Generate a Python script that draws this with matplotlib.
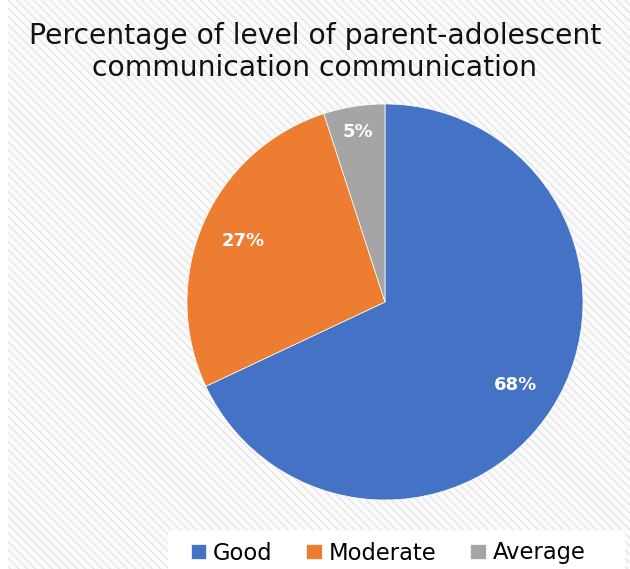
import numpy as np
import matplotlib
matplotlib.use("Agg")
import matplotlib.pyplot as plt
from matplotlib.patches import Rectangle

labels = ["Good", "Moderate", "Average"]
values = [68, 27, 5]
colors = ["#4472C4", "#ED7D31", "#A5A5A5"]

plt.rcParams['font.family'] = ['DejaVu Sans']
plt.rcParams['hatch.color'] = '#e4e4e4'
plt.rcParams['hatch.linewidth'] = 1.0

fig = plt.figure(figsize=(6.3, 5.69), dpi=100)
fig.patch.set_facecolor("white")

# hatched chart background
bg = Rectangle((8 / 630, 0), 1 - 8 / 630, 1, transform=fig.transFigure,
               facecolor="#fbfbfb", edgecolor="#e6e6e6", hatch="\\\\\\\\", lw=0, zorder=-3)
fig.patches.append(bg)
# legend box
fig.patches.append(Rectangle((168 / 630, 0), 457 / 630, 39 / 569, transform=fig.transFigure,
                             facecolor="white", edgecolor="none", zorder=-2))

fig.text(0.5, 0.909, "Percentage of level of parent-adolescent\ncommunication communication",
         ha="center", va="center", fontsize=20.3, color="#111111", linespacing=1.2)

ax = fig.add_axes([187 / 630, 69 / 569, 396 / 630, 396 / 569])
ax.patch.set_visible(False)
wedges, texts, autotexts = ax.pie(values, colors=colors, startangle=90, counterclock=False,
                                  autopct="%d%%", pctdistance=0.78,
                                  wedgeprops=dict(linewidth=0.5, edgecolor="white"),
                                  textprops=dict(color="white", fontsize=13, fontweight="bold"))
ax.set_xlim(-1, 1)
ax.set_ylim(-1, 1)
ax.set_aspect("auto")

# small slice label sits further out
w = wedges[2]
mid = np.deg2rad((w.theta1 + w.theta2) / 2)
autotexts[2].set_position((0.87 * np.cos(mid), 0.87 * np.sin(mid)))

leg = fig.legend(wedges, labels, loc="center", bbox_to_anchor=(388 / 630, 1 - 553 / 569),
                 ncol=3, frameon=False, fontsize=16.3, handlelength=0.68, handleheight=0.68,
                 handletextpad=0.3, columnspacing=1.5)

fig.savefig("out.png", dpi=100, facecolor="white")
